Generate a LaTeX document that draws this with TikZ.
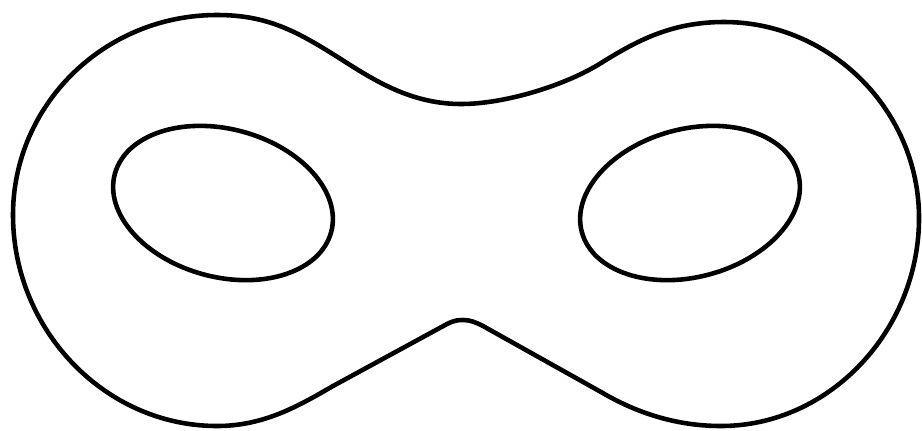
\documentclass[tikz,border=0pt]{standalone}
\begin{document}
\begin{tikzpicture}[x=0.01cm,y=-0.01cm,line join=round,
  outline/.style={draw=black,line width=1.3pt}]
\useasboundingbox (0,0) rectangle (922,430);
% outer contour
\draw[outline] (461,104)
  .. controls (415,104) and (380,84) .. (347,63)
  .. controls (300,33) and (270,15) .. (217,15)
  .. controls (104,15) and (13,105) .. (13,215)
  .. controls (13,330) and (105,426) .. (217,426)
  .. controls (265,426) and (300,405) .. (333,386)
  -- (447,324)
  .. controls (455,320) and (459,320) .. (463,320)
  .. controls (470,320) and (475,322) .. (483,326)
  -- (601,392)
  .. controls (640,415) and (680,426) .. (721,426)
  .. controls (830,426) and (919,330) .. (919,218)
  .. controls (919,110) and (830,22) .. (724,22)
  .. controls (670,22) and (635,42) .. (601,63)
  .. controls (568,84) and (507,104) .. (461,104) -- cycle;
% eye holes
\draw[outline] (223,203) ellipse [x radius=112, y radius=74, rotate=-15];
\draw[outline] (690,203) ellipse [x radius=112, y radius=74, rotate=15];
\end{tikzpicture}
\end{document}
